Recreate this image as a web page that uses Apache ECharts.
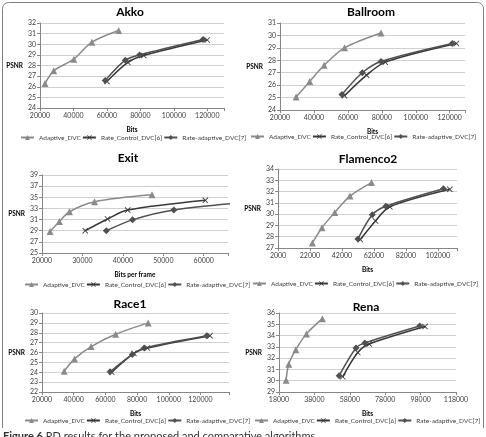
<!DOCTYPE html>
<html>
<head>
<meta charset="utf-8">
<script src="https://cdn.jsdelivr.net/npm/echarts@6/dist/echarts.min.js"></script>
<style>
html, body { margin: 0; padding: 0; background: #fff; }
#chart { width: 486px; height: 437px; }
</style>
</head>
<body>
<div id="chart"></div>
<script>
// series / panels
const seriesNames = ['Adaptive_DVC', 'Rate_Control_DVC[6]', 'Rate-adaptive_DVC[7]'];
const panelTitles = ['Akko', 'Ballroom', 'Exit', 'Flamenco2', 'Race1', 'Rena'];
const xAxisNames = ['Bits', 'Bits', 'Bits per frame', 'Bits', 'Bits', 'Bits'];

// [bits, PSNR]
const akkoAdaptive = [[23000, 26.3], [28200, 27.5], [40200, 28.6], [51000, 30.2], [67000, 31.3]];
const akkoRC = [[60000, 26.5], [72500, 28.3], [82000, 28.95], [120000, 30.4]];
const akkoRA = [[59000, 26.6], [71000, 28.5], [79500, 29.0], [117500, 30.45]];

const ballAdaptive = [[29500, 25.05], [37500, 26.3], [46000, 27.6], [58000, 29.0], [79500, 30.2]];
const ballRC = [[58000, 25.15], [71000, 26.8], [82000, 27.85], [124000, 29.35]];
const ballRA = [[56500, 25.25], [68500, 27.0], [79500, 27.9], [121500, 29.35]];

const exitAdaptive = [[22000, 28.85], [24300, 30.65], [26800, 32.4], [33000, 34.2], [47200, 35.45]];
const exitRC = [[30700, 29.0], [36200, 31.1], [41200, 32.7], [60400, 34.45]];
const exitRA = [[35900, 29.0], [42400, 30.95], [52600, 32.7], [70000, 34.05]];

const flamAdaptive = [[23500, 27.45], [29500, 28.8], [37500, 30.15], [47000, 31.6], [60500, 32.8]];
const flamRC = [[53500, 27.75], [63000, 29.4], [72000, 30.65], [109500, 32.2]];
const flamRA = [[52000, 27.8], [61000, 29.95], [69500, 30.7], [105500, 32.25]];

const raceAdaptive = [[34000, 24.1], [40500, 25.35], [51000, 26.6], [66500, 27.85], [87000, 29.0]];
const raceRC = [[64000, 24.0], [78000, 25.9], [86500, 26.45], [126000, 27.7]];
const raceRA = [[63000, 24.05], [77000, 25.8], [84500, 26.45], [124000, 27.7]];

const renaAdaptive = [[22000, 30.05], [23500, 31.45], [27500, 32.75], [33500, 34.15], [42500, 35.5]];
const renaRC = [[54000, 30.35], [62500, 32.5], [69000, 33.25], [100500, 34.8]];
const renaRA = [[52000, 30.45], [61500, 32.9], [66500, 33.35], [97500, 34.85]];

const panelData = [
  [akkoAdaptive, akkoRC, akkoRA],
  [ballAdaptive, ballRC, ballRA],
  [exitAdaptive, exitRC, exitRA],
  [flamAdaptive, flamRC, flamRA],
  [raceAdaptive, raceRC, raceRA],
  [renaAdaptive, renaRC, renaRA]
];

// axis ranges / ticks
const xMins = [20000, 20000, 20000, 2000, 20000, 18000];
const xMaxs = [130000, 129000, 66000, 114000, 138000, 118000];
const xSteps = [20000, 20000, 10000, 20000, 20000, 20000];
const xLastLabels = [120000, 120000, 60000, 102000, 120000, 118000];
const yMins = [24, 24, 25, 27, 22, 29];
const yMaxs = [32, 31, 39, 34, 30, 36];
const ySteps = [1, 1, 2, 1, 1, 1];

// layout (px)
const grids = [
  { left: 40, top: 23, width: 184, height: 85 },
  { left: 280, top: 23, width: 185, height: 87 },
  { left: 42, top: 175, width: 186, height: 78 },
  { left: 278, top: 169, width: 179, height: 79 },
  { left: 42, top: 313, width: 187, height: 79 },
  { left: 279, top: 313, width: 177, height: 79 }
];
const titlePos = [[130, 6], [371, 6], [128, 152], [368, 153], [130, 298], [366, 301]];
const legendPos = [[20, 134], [250, 133], [24, 281], [252, 280], [24, 417], [254, 417]];

const crossPath = 'path://M0,1L1,0L5,4L9,0L10,1L6,5L10,9L9,10L5,6L1,10L0,9L4,5Z';
const symbols = ['triangle', crossPath, 'diamond'];
const colors = ['#8a8a8a', '#383838', '#505050'];
const font = 'Lato, "Liberation Sans", sans-serif';

const option = {
  animation: false,
  textStyle: { fontFamily: font },
  title: [],
  legend: [],
  grid: [],
  xAxis: [],
  yAxis: [],
  series: [],
  graphic: [
    { type: 'rect', shape: { x: 2.5, y: 2.5, width: 481, height: 460, r: 6 },
      style: { fill: 'none', stroke: '#808080', lineWidth: 1 } },
    { type: 'rect', shape: { x: 0, y: 428, width: 486, height: 12 }, style: { fill: '#fff' } },
    { type: 'text', left: 3, top: 431,
      style: { text: '{b|Figure 6} RD results for the proposed and comparative algorithms.',
        fontSize: 11, fill: '#333', fontFamily: font,
        rich: { b: { fontWeight: 'bold', fontSize: 11, fill: '#333', fontFamily: font } } } }
  ]
};

panelTitles.forEach((name, i) => {
  option.title.push({
    text: name, left: titlePos[i][0], top: titlePos[i][1], textAlign: 'center', padding: 0,
    textStyle: { fontSize: 12, fontWeight: 'bold', color: '#000', fontFamily: font }
  });
  option.legend.push({
    data: seriesNames, left: legendPos[i][0], top: legendPos[i][1], width: 300, padding: 0,
    itemWidth: 13, itemHeight: 6, itemGap: 1,
    textStyle: { fontSize: 6.5, color: '#404040', fontFamily: font }
  });
  option.grid.push(Object.assign({}, grids[i]));
  const step = xSteps[i], xmin = xMins[i], last = xLastLabels[i];
  option.xAxis.push({
    type: 'value', gridIndex: i, min: xmin, max: xMaxs[i], interval: step,
    name: xAxisNames[i], nameLocation: 'middle', nameGap: 18,
    nameTextStyle: { fontSize: 6.5, fontWeight: 'bold', color: '#000' },
    axisLine: { show: true, lineStyle: { color: '#868686' } },
    axisTick: { show: true, length: 3, lineStyle: { color: '#868686' } },
    axisLabel: { fontSize: 7, color: '#404040', margin: 4,
      formatter: v => ((v - xmin) % step === 0 && v <= last) ? String(v) : '' },
    splitLine: { show: false }
  });
  option.yAxis.push({
    type: 'value', gridIndex: i, min: yMins[i], max: yMaxs[i], interval: ySteps[i],
    name: 'PSNR', nameLocation: 'middle', nameRotate: 0, nameGap: 15,
    nameTextStyle: { fontSize: 6.5, fontWeight: 'bold', color: '#000' },
    axisLine: { show: true, lineStyle: { color: '#868686' } },
    axisTick: { show: true, length: 3, lineStyle: { color: '#868686' } },
    axisLabel: { fontSize: 7, color: '#404040', margin: 4 },
    splitLine: { show: true, lineStyle: { color: '#d0d0d0', width: 1 } }
  });
  panelData[i].forEach((pts, k) => {
    option.series.push({
      name: seriesNames[k], type: 'line', xAxisIndex: i, yAxisIndex: i,
      data: pts, smooth: 0.3, clip: true,
      symbol: symbols[k], symbolSize: k === 1 ? 6 : 7, showAllSymbol: true,
      lineStyle: { color: colors[k], width: 1.5 },
      itemStyle: { color: colors[k] }
    });
  });
});

const myChart = echarts.init(document.getElementById('chart'));
myChart.setOption(option);
</script>
</body>
</html>
